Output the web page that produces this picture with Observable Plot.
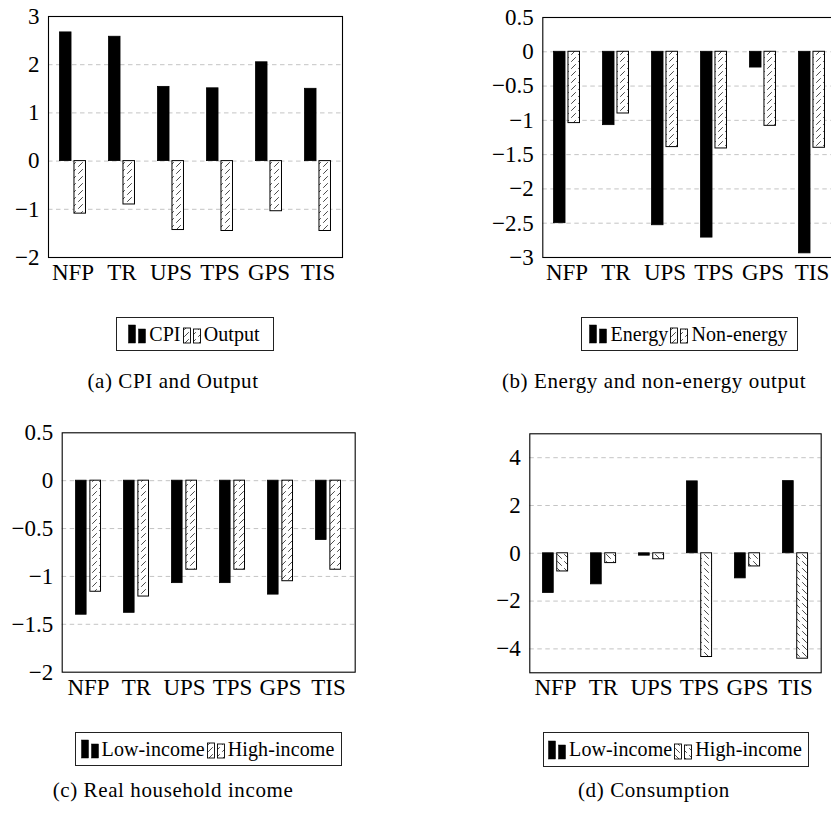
<!DOCTYPE html>
<html>
<head>
<meta charset="utf-8">
<script src="https://cdn.jsdelivr.net/npm/d3@7"></script>
<script src="https://cdn.jsdelivr.net/npm/@observablehq/plot@0.6"></script>
<style>
  html, body { margin: 0; padding: 0; background: #fff; }
  #page { position: relative; width: 831px; height: 814px; overflow: hidden; background: #fff; font-family: 'Liberation Serif', serif; color: #000; }
  .panel { position: absolute; }
  .legend { position: absolute; box-sizing: border-box; border: 1px solid #222; display: flex; align-items: center; justify-content: center; font-size: 20px; letter-spacing: 0.1px; background: #fff; white-space: nowrap; }
  .legend svg { margin: 0 2px 0 0; flex: none; }
  .legend span { margin-right: 2px; flex: none; white-space: nowrap; }
  .caption { position: absolute; width: 420px; text-align: center; font-size: 21px; letter-spacing: 0.6px; line-height: 24px; white-space: nowrap; }
</style>
</head>
<body>
<svg width="0" height="0" style="position:absolute">
  <defs>
    <pattern id="hatchNE" patternUnits="userSpaceOnUse" width="7" height="7">
      <rect width="7" height="7" fill="#fff"/>
      <path d="M1.2,5.8L5.8,1.2" stroke="#333" stroke-width="0.9"/>
    </pattern>
    <pattern id="hatchNW" patternUnits="userSpaceOnUse" width="7" height="7">
      <rect width="7" height="7" fill="#fff"/>
      <path d="M1.2,1.2L5.8,5.8" stroke="#333" stroke-width="0.9"/>
    </pattern>
  </defs>
</svg>
<div id="page"></div>
<script>
// ---------- data ----------
const categories = ["NFP", "TR", "UPS", "TPS", "GPS", "TIS"];

const cpi       = [2.67, 2.58, 1.54, 1.51, 2.05, 1.50];
const output    = [-1.09, -0.90, -1.43, -1.45, -1.04, -1.45];

const energy    = [-2.50, -1.07, -2.53, -2.71, -0.23, -2.94];
const nonEnergy = [-1.04, -0.90, -1.39, -1.41, -1.08, -1.40];

const incomeLow  = [-1.40, -1.38, -1.07, -1.07, -1.19, -0.62];
const incomeHigh = [-1.16, -1.21, -0.93, -0.93, -1.05, -0.93];

const consLow  = [-1.66, -1.30, -0.10, 3.01, -1.05, 3.02];
const consHigh = [-0.76, -0.41, -0.25, -4.34, -0.55, -4.41];

const ticksA = [-2, -1, 0, 1, 2, 3];
const ticksB = [-3, -2.5, -2, -1.5, -1, -0.5, 0, 0.5];
const ticksC = [-2, -1.5, -1, -0.5, 0, 0.5];
const ticksD = [-4, -2, 0, 2, 4];
const domainD = [-5, 5];

const seriesNames = {
  a: ["CPI", "Output"],
  b: ["Energy", "Non-energy"],
  c: ["Low-income", "High-income"],
  d: ["Low-income", "High-income"]
};
const captions = {
  a: "(a) CPI and Output",
  b: "(b) Energy and non-energy output",
  c: "(c) Real household income",
  d: "(d) Consumption"
};

// ---------- drawing ----------
const page = document.getElementById("page");
const fmt = d => (d < 0 ? "\u2212" : "") + Math.abs(d);

function panel({left, top, fL, fT, fW, fH, domain, ticks, low, high, hatch}) {
  const rowsLow = categories.map((c, i) => ({cat: c, v: low[i]}));
  const rowsHigh = categories.map((c, i) => ({cat: c, v: high[i]}));
  const grid = ticks.filter(t => t > domain[0] && t < domain[1]);
  const bw = fW / categories.length;
  const barW = bw * 0.235;
  const gap = bw * 0.06;
  const mid = bw / 2;
  const mR = 14, mB = 40;
  const chart = Plot.plot({
    width: fL + fW + mR,
    height: fT + fH + mB,
    marginLeft: fL, marginTop: fT, marginRight: mR, marginBottom: mB,
    style: {fontFamily: "'Liberation Serif', serif", fontSize: "23px", background: "transparent", color: "#000", overflow: "visible"},
    x: {domain: categories, padding: 0},
    y: {domain, ticks},
    marks: [
      Plot.ruleY(grid, {stroke: "#c4c4c4", strokeWidth: 1, strokeDasharray: "4.5,3.5"}),
      Plot.barY(rowsLow, {x: "cat", y: "v", fill: "#000", stroke: "#000", strokeWidth: 0.8,
        insetLeft: mid - gap / 2 - barW, insetRight: bw - (mid - gap / 2)}),
      Plot.barY(rowsHigh, {x: "cat", y: "v", fill: `url(#${hatch})`, stroke: "#000", strokeWidth: 1,
        insetLeft: mid + gap / 2, insetRight: bw - (mid + gap / 2 + barW)}),
      Plot.frame({stroke: "#000", strokeWidth: 1.1}),
      Plot.axisX({tickSize: 0, tickPadding: 6, label: null, fontSize: 23, letterSpacing: 1}),
      Plot.axisY({ticks, tickSize: 0, tickPadding: 9, tickFormat: fmt, label: null, fontSize: 23})
    ]
  });
  chart.classList.add("panel");
  chart.style.left = left + "px";
  chart.style.top = top + "px";
  chart.style.position = "absolute";
  page.appendChild(chart);
}

function legendIcon(fill, hatched) {
  const ns = "http://www.w3.org/2000/svg";
  const s = document.createElementNS(ns, "svg");
  s.setAttribute("width", 19); s.setAttribute("height", 20);
  const h1 = hatched ? 15 : 18, h2 = 14;
  [[0.5, h1], [10.5, h2]].forEach(([x, h]) => {
    const r = document.createElementNS(ns, "rect");
    r.setAttribute("x", x); r.setAttribute("y", 19 - h);
    r.setAttribute("width", 7); r.setAttribute("height", h);
    r.setAttribute("fill", fill); r.setAttribute("stroke", "#000"); r.setAttribute("stroke-width", hatched ? 0.9 : 0.5);
    s.appendChild(r);
  });
  return s;
}

function legend({left, top, width, height, names, hatch}) {
  const div = document.createElement("div");
  div.className = "legend";
  Object.assign(div.style, {left: left + "px", top: top + "px", width: width + "px", height: height + "px"});
  div.appendChild(legendIcon("#000", false));
  const t1 = document.createElement("span"); t1.textContent = names[0]; div.appendChild(t1);
  div.appendChild(legendIcon(`url(#${hatch})`, true));
  const t2 = document.createElement("span"); t2.textContent = names[1]; div.appendChild(t2);
  page.appendChild(div);
}

function caption(text, cx, cy) {
  const div = document.createElement("div");
  div.className = "caption";
  div.textContent = text;
  div.style.left = (cx - 210) + "px";
  div.style.top = (cy - 12) + "px";
  page.appendChild(div);
}

panel({left: 0, top: 0, fL: 48, fT: 16, fW: 294, fH: 241, domain: [-2, 3], ticks: ticksA, low: cpi, high: output, hatch: "hatchNE"});
panel({left: 430, top: 0, fL: 112.3, fT: 17, fW: 294, fH: 240, domain: [-3, 0.5], ticks: ticksB, low: energy, high: nonEnergy, hatch: "hatchNE"});
panel({left: 0, top: 420, fL: 61.7, fT: 12.3, fW: 293, fH: 239.4, domain: [-2, 0.5], ticks: ticksC, low: incomeLow, high: incomeHigh, hatch: "hatchNE"});
panel({left: 430, top: 420, fL: 99.3, fT: 13.3, fW: 291.4, fH: 239, domain: domainD, ticks: ticksD, low: consLow, high: consHigh, hatch: "hatchNW"});

legend({left: 116, top: 317, width: 158, height: 34, names: seriesNames.a, hatch: "hatchNE"});
legend({left: 581, top: 317, width: 217, height: 34, names: seriesNames.b, hatch: "hatchNE"});
legend({left: 75, top: 732, width: 267, height: 34, names: seriesNames.c, hatch: "hatchNE"});
legend({left: 543, top: 732, width: 266, height: 35, names: seriesNames.d, hatch: "hatchNW"});

caption(captions.a, 173, 381);
caption(captions.b, 654, 381);
caption(captions.c, 173, 790);
caption(captions.d, 654, 790);
</script>
</body>
</html>
